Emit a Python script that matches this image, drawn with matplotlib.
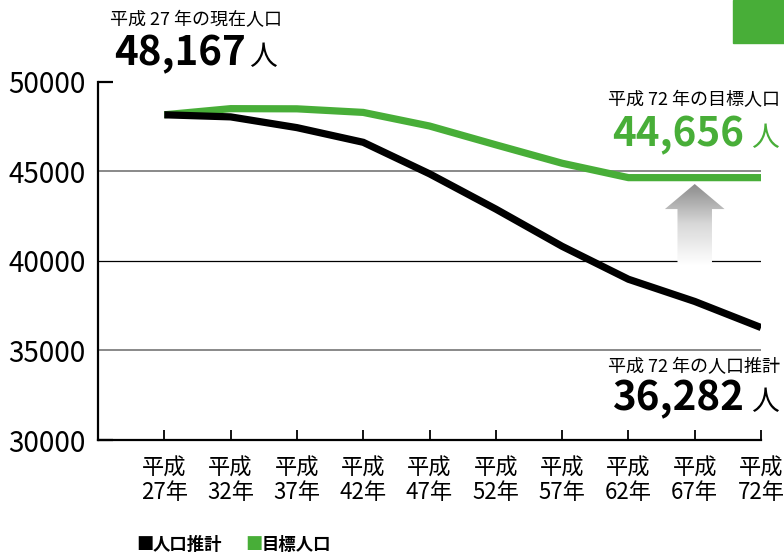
import numpy as np
import matplotlib.pyplot as plt
from matplotlib.patches import Polygon, Rectangle
from matplotlib.colors import LinearSegmentedColormap

plt.rcParams['font.family'] = ['Noto Sans CJK JP', 'DejaVu Sans']

years = [27, 32, 37, 42, 47, 52, 57, 62, 67, 72]
estimate = [48167, 48050, 47450, 46630, 44870, 42900, 40820, 38980, 37740, 36282]
target = [48167, 48510, 48500, 48300, 47540, 46490, 45460, 44656, 44656, 44656]
xlabels = ["平成\n%d年" % y for y in years]

green = "#48ae38"
x = np.arange(len(years))

fig = plt.figure(figsize=(7.84, 5.55), dpi=100)
ax = fig.add_axes([0.125, 0.2072, 0.8457, 0.6451])

# grid lines
ax.axhline(45000, color="#808080", lw=1.3, zorder=1)
ax.axhline(40000, color="black", lw=0.9, zorder=1)
ax.axhline(35000, color="#808080", lw=1.3, zorder=1)

ax.plot(x, target, color=green, lw=5.2, solid_joinstyle="miter", solid_capstyle="butt", zorder=3)
ax.plot(x, estimate, color="black", lw=5.2, solid_joinstyle="miter", solid_capstyle="butt", zorder=4)

# gradient arrow
xc = 8
hw, sw = 0.45, 0.26
tip, base, bot = 44300, 42900, 39750
arrow = Polygon([(xc, tip), (xc + hw, base), (xc + sw, base), (xc + sw, bot),
                 (xc - sw, bot), (xc - sw, base), (xc - hw, base)],
                closed=True, facecolor="none", edgecolor="none")
ax.add_patch(arrow)
cmap = LinearSegmentedColormap.from_list("g", ["#ffffff", "#d8d8d8", "#8a8a8a"])
grad = np.linspace(0, 1, 256).reshape(-1, 1)
im = ax.imshow(grad, cmap=cmap, origin="lower", aspect="auto",
               extent=[xc - hw, xc + hw, bot, tip], zorder=2)
im.set_clip_path(arrow)

ax.set_xlim(-1, 9)
ax.set_ylim(30000, 50000)
ax.set_xticks(x)
ax.set_xticklabels(xlabels, fontsize=16, linespacing=1.05)
ax.set_yticks([30000, 35000, 40000, 45000, 50000])
ax.tick_params(axis="y", direction="in", length=11, width=1.6, labelsize=20, pad=9)
ax.tick_params(axis="x", direction="in", length=7, width=1.3, pad=12)
for t in ax.yaxis.get_major_ticks()[1:4]:
    t.tick1line.set_visible(False)
for s in ["top", "right"]:
    ax.spines[s].set_visible(False)
ax.spines["left"].set_linewidth(1.6)
ax.spines["bottom"].set_linewidth(1.6)

# annotations
W, H = 784, 555
def ft(px, py, s, **kw):
    fig.text(px / W, 1 - py / H, s, **kw)

ft(110, 20, "平成 27 年の現在人口", fontsize=13, va="center")
ft(114, 65, f"{estimate[0]:,}", fontsize=29, fontweight="bold", va="baseline")
ft(249, 65, "人", fontsize=20, va="baseline")

ft(608, 100, "平成 72 年の目標人口", fontsize=13, va="center")
ft(612, 146, f"{target[-1]:,}", fontsize=29, fontweight="bold", va="baseline", color=green)
ft(751, 146, "人", fontsize=20, va="baseline", color=green)

ft(608, 367, "平成 72 年の人口推計", fontsize=13, va="center")
ft(612, 410, f"{estimate[-1]:,}", fontsize=29, fontweight="bold", va="baseline")
ft(751, 410, "人", fontsize=20, va="baseline")

# legend
ft(136, 545, "■", fontsize=12.5, fontweight="bold", va="center", color="black")
ft(153, 545, "人口推計", fontsize=12.5, fontweight="bold", va="center")
ft(245, 545, "■", fontsize=12.5, fontweight="bold", va="center", color=green)
ft(262, 545, "目標人口", fontsize=12.5, fontweight="bold", va="center")

# corner tab
fig.patches.append(Rectangle((733 / W, 1 - 43 / H), 51 / W, 43 / H,
                             transform=fig.transFigure, color=green))

fig.savefig("out.png", dpi=100)
